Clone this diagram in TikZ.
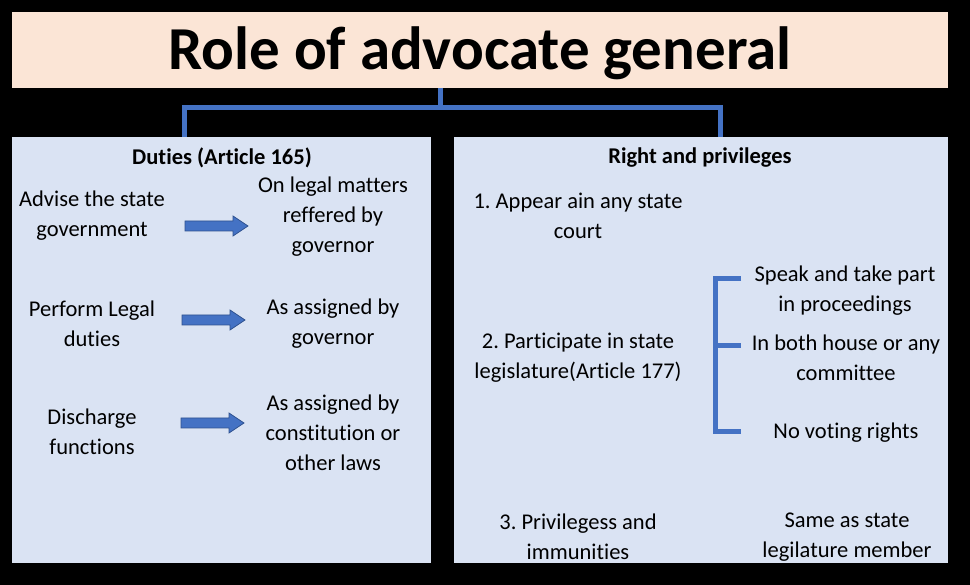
\documentclass[tikz,border=0pt]{standalone}
\usepackage{fontspec}
\setmainfont{Carlito}[Ligatures=NoCommon]
\frenchspacing
\definecolor{peach}{HTML}{FBE5D6}
\definecolor{panelblue}{HTML}{DAE3F3}
\definecolor{linkblue}{HTML}{4472C4}
\definecolor{arrowedge}{HTML}{2F528F}
\begin{document}
\begin{tikzpicture}[x=1pt,y=-1pt,
  txt/.style={align=center,inner sep=0pt,font=\fontsize{22.5}{30}\selectfont},
  hdr/.style={txt,font=\fontsize{22.5}{30}\selectfont\bfseries},
  conn/.style={draw=linkblue,line width=5pt},
  blockarrow/.pic={\filldraw[draw=arrowedge,fill=linkblue,line width=0.8pt,line join=miter]
     (0,-5) -- (48,-5) -- (48,-10) -- (63,0) -- (48,10) -- (48,5) -- (0,5) -- cycle;}]
\fill[black] (0,0) rectangle (970,585);
\useasboundingbox (0,0) rectangle (970,585);
% title
\node[fill=peach,minimum width=936pt,minimum height=76pt,inner sep=0pt,anchor=north west] (title) at (12,12) {};
\node[font=\fontsize{61}{61}\selectfont\bfseries,inner sep=0pt] (ttext) at (480,53) {Role of advocate general};
% panels
\node[fill=panelblue,minimum width=419pt,minimum height=426pt,inner sep=0pt,anchor=north west] (lp) at (12,137) {};
\node[fill=panelblue,minimum width=494pt,minimum height=426pt,inner sep=0pt,anchor=north west] (rp) at (454,137) {};
% connectors
\coordinate (j) at (440,108);
\draw[conn] (title.south -| j) -- (j);
\draw[conn] (lp.north -| 184,0) |- (j) -| (rp.north -| 720,0);
% left panel
\node[hdr] (dh) at (222,158) {Duties (Article 165)};
\node[txt] (a1) at (92,216) {Advise the state\\government};
\node[txt] (b1) at (333,217) {On legal matters\\reffered by\\governor};
\node[txt] (a2) at (92,324) {Perform Legal\\duties};
\node[txt] (b2) at (333,324) {As assigned by\\governor};
\node[txt] (a3) at (92,432) {Discharge\\functions};
\node[txt] (b3) at (333,433) {As assigned by\\constitution or\\other laws};
\coordinate (r1) at (185,226);
\coordinate (r2) at (182,320);
\coordinate (r3) at (181,423);
\pic at (r1) {blockarrow};
\pic at (r2) {blockarrow};
\pic at (r3) {blockarrow};
% right panel
\node[hdr] (rh) at (700,158) {Right and privileges};
\node[txt] (c1) at (578,216) {1. Appear ain any state\\court};
\node[txt] (c2) at (578,358) {2. Participate in state\\legislature(Article 177)};
\node[txt] (c3) at (578,537) {3. Privilegess and\\immunities};
\node[txt] (d1) at (845,291) {Speak and take part\\in proceedings};
\node[txt] (d2) at (846,358) {In both house or any\\committee};
\node[txt] (d3) at (846,433) {No voting rights};
\node[txt] (d4) at (847,537) {Same as state\\legilature member};
% bracket
\coordinate (bt) at (741,279);
\coordinate (bb) at (741,432);
\coordinate (bm) at (741,346);
\draw[conn,line cap=butt] (bt) -- (715,279) -- (715,432) -- (bb);
\draw[conn] (715,346) -- (bm);
\end{tikzpicture}
\end{document}
